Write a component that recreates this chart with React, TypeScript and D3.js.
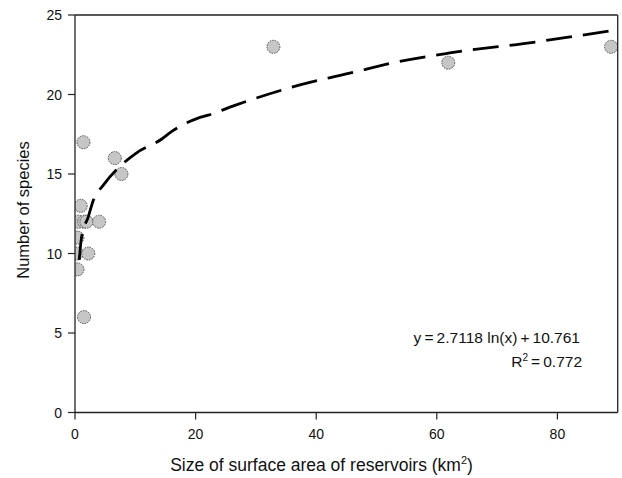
import React from "react";
import { scaleLinear, line, curveMonotoneX } from "d3";

// reservoir area (km2) vs number of species
const areas = [0.95, 0.55, 1.5, 1.9, 4.0, 0.4, 0.3, 2.2, 0.4, 1.5, 1.4, 6.6, 7.7, 32.9, 61.9, 88.9];
const species = [13, 12, 12, 12, 12, 11, 10, 10, 9, 6, 17, 16, 15, 23, 22, 23];

// fitted log curve as drawn in the figure
const trendX = [0.7, 1.1, 2.2, 3.0, 4.7, 8.1, 10.1, 14.4, 16.0, 20.3, 22.1, 26.4, 37.3, 46.2, 52.2, 61.9, 76.3, 88.7];
const trendY = [9.6, 11.05, 12.3, 13.3, 14.3, 15.7, 16.3, 17.2, 17.66, 18.5, 18.7, 19.3, 20.6, 21.4, 21.95, 22.6, 23.3, 24.0];

const xTicks = [0, 20, 40, 60, 80];
const yTicks = [0, 5, 10, 15, 20, 25];

const equation = "y\u2009=\u20092.7118 ln(x)\u2009+\u200910.761";
const rSquared = "0.772";

export default function App() {
  const width = 622,
    height = 478,
    marginLeft = 75,
    marginTop = 15,
    marginRight = 4.3,
    marginBottom = 65.5;
  const font = "'Liberation Sans', Arial, Helvetica, sans-serif";

  const xScale = scaleLinear().domain([0, 90]).range([marginLeft, width - marginRight]);
  const yScale = scaleLinear().domain([0, 25]).range([height - marginBottom, marginTop]);

  const trendPath = line<number>()
    .x((d, i) => xScale(trendX[i]))
    .y(d => yScale(d))
    .curve(curveMonotoneX)(trendY);

  const x0 = xScale(0),
    x1 = xScale(90),
    y0 = yScale(0),
    y1 = yScale(25);
  const axisColor = "#222";

  return (
    <svg
      width={width}
      height={height}
      style={{ position: "absolute", left: 0, top: 0, background: "#fff" }}
      fontFamily={font}
    >
      <defs>
        <clipPath id="plot">
          <rect x={x0} y={y1} width={x1 - x0} height={y0 - y1} />
        </clipPath>
      </defs>

      <g clipPath="url(#plot)">
        {areas.map((a, i) => (
          <circle
            key={i}
            cx={xScale(a)}
            cy={yScale(species[i])}
            r={6.5}
            fill="#c6c6c6"
            stroke="#555"
            strokeWidth={1}
            strokeDasharray="1.6 1"
          />
        ))}
        <path
          d={trendPath || ""}
          fill="none"
          stroke="#000"
          strokeWidth={2.8}
          strokeDasharray="26 11"
        />
      </g>

      {/* frame */}
      <line x1={x0} y1={y1} x2={x1} y2={y1} stroke={axisColor} strokeWidth={1.3} />
      <line x1={x1} y1={y1} x2={x1} y2={y0} stroke={axisColor} strokeWidth={1.3} />
      <line x1={x0} y1={y1} x2={x0} y2={y0} stroke={axisColor} strokeWidth={1.3} />
      <line x1={x0} y1={y0} x2={x1} y2={y0} stroke={axisColor} strokeWidth={1.3} />

      {yTicks.map(t => (
        <g key={t}>
          <line x1={x0 - 7} x2={x0} y1={yScale(t)} y2={yScale(t)} stroke={axisColor} strokeWidth={1.2} />
          <text x={x0 - 13} y={yScale(t) + 5} textAnchor="end" fontSize={14} fill="#111">
            {t}
          </text>
        </g>
      ))}
      {xTicks.map(t => (
        <g key={t}>
          <line x1={xScale(t)} x2={xScale(t)} y1={y0} y2={y0 + 7} stroke={axisColor} strokeWidth={1.2} />
          <text x={xScale(t)} y={y0 + 26} textAnchor="middle" fontSize={14} fill="#111">
            {t}
          </text>
        </g>
      ))}

      <text
        transform={`translate(29, 210) rotate(-90)`}
        textAnchor="middle"
        fontSize={16.5}
        fill="#111"
      >
        Number of species
      </text>
      <text x={321.5} y={471} textAnchor="middle" fontSize={17.5} fill="#111">
        Size of surface area of reservoirs (km<tspan dy={-7} fontSize={11}>2</tspan>
        <tspan dy={7}>)</tspan>
      </text>

      <text x={580} y={343} textAnchor="end" fontSize={15.5} fill="#111">
        {equation}
      </text>
      <text x={582} y={367} textAnchor="end" fontSize={15.5} fill="#111">
        R<tspan dy={-6} fontSize={10}>2</tspan>
        <tspan dy={6}>{"\u2009=\u2009" + rSquared}</tspan>
      </text>
    </svg>
  );
}
